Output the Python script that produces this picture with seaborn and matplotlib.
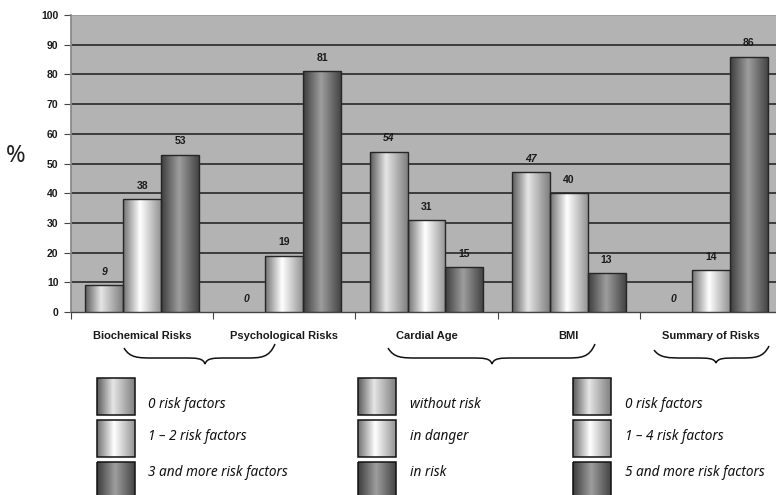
import numpy as np
import pandas as pd
import matplotlib
matplotlib.use("Agg")
import matplotlib.pyplot as plt
from matplotlib.path import Path
from matplotlib.patches import PathPatch, Rectangle
import seaborn as sns

# ---- data -------------------------------------------------------------
categories = ["Biochemical Risks", "Psychological Risks", "Cardial Age", "BMI", "Summary of Risks"]
series_names = ["Level 1", "Level 2", "Level 3"]
level1 = [9, 0, 54, 47, 0]
level2 = [38, 19, 31, 40, 14]
level3 = [53, 81, 15, 13, 86]

legend_a = ["0 risk factors", "1 \u2013 2 risk factors", "3 and more risk factors"]
legend_b = ["without risk", "in danger", "in risk"]
legend_c = ["0 risk factors", "1 \u2013 4 risk factors", "5 and more risk factors"]

y_ticks = list(range(0, 101, 10))

df = pd.DataFrame({
    "category": categories * 3,
    "series": sum([[s] * len(categories) for s in series_names], []),
    "value": level1 + level2 + level3,
})

# ---- style ------------------------------------------------------------
sns.set_theme(style="white")
plt.rcParams["font.family"] = ["Liberation Sans", "DejaVu Sans"]

W, H = 776, 495
fig = plt.figure(figsize=(W / 100, H / 100), dpi=100)
fig.patch.set_facecolor("white")

left_px, right_px, top_px, bottom_px = 71, 782, 15, 312
ax = fig.add_axes([left_px / W, 1 - bottom_px / H,
                   (right_px - left_px) / W, (bottom_px - top_px) / H])
ax.set_facecolor("#b3b3b3")

sns.barplot(data=df, x="category", y="value", hue="series",
            order=categories, hue_order=series_names,
            palette=["#a0a0a0", "#d0d0d0", "#707070"],
            width=0.8, edgecolor="#262626", linewidth=1.0,
            legend=False, ax=ax, zorder=3)

# cylinder-like horizontal shading for each series
shades = [
    [(0.0, 0.36), (0.42, 0.90), (1.0, 0.50)],
    [(0.0, 0.45), (0.45, 1.00), (1.0, 0.58)],
    [(0.0, 0.24), (0.48, 0.62), (1.0, 0.27)],
]


def gradient_row(stops, n=64):
    xs = np.linspace(0, 1, n)
    pos = [p for p, _ in stops]
    val = [v for _, v in stops]
    return np.interp(xs, pos, val)[None, :]


ax.set_xlim(-0.5, 4.5)
ax.set_ylim(0, 100)
for k, container in enumerate(ax.containers):
    grad = gradient_row(shades[k])
    for patch in container:
        x0, w, h = patch.get_x(), patch.get_width(), patch.get_height()
        if h <= 0:
            patch.set_visible(False)
            continue
        im = ax.imshow(grad, cmap="gray", vmin=0, vmax=1, aspect="auto",
                       extent=(x0, x0 + w, 0, h), zorder=2.9,
                       interpolation="bilinear")
        im.set_clip_path(patch)
        patch.set_facecolor("none")
        patch.set_zorder(3.1)
ax.set_xlim(-0.5, 4.5)
ax.set_ylim(0, 100)

# value labels
for k, container in enumerate(ax.containers):
    ax.bar_label(container, labels=[f"{v:g}" for v in container.datavalues],
                 padding=6, fontsize=7.5, fontweight="bold",
                 fontstyle="italic" if k == 0 else "normal",
                 color="#1a1a1a", zorder=5)

# grid and axes
for yv in y_ticks[1:-1]:
    ax.axhline(yv, color="#333333", lw=1.3, zorder=1)
ax.set_yticks(y_ticks)
ax.set_yticklabels([str(t) for t in y_ticks], fontsize=7.5, fontweight="bold", color="#1a1a1a")
ax.tick_params(axis="y", direction="out", length=5, width=0.8, color="#444444", pad=4, left=True)
ax.set_xticks(range(len(categories)))
ax.set_xticklabels(categories, fontsize=8, fontweight="bold", color="#1a1a1a")
ax.tick_params(axis="x", length=0, pad=14)
ax.set_xticks(np.arange(-0.5, 4.6, 1.0), minor=True)
ax.tick_params(axis="x", which="minor", direction="out", length=5, width=0.8, color="#444444", bottom=True)
ax.set_xlabel("")
ax.set_ylabel("")
for side in ["top", "right"]:
    ax.spines[side].set_visible(False)
ax.spines["left"].set_color("#888888")
ax.spines["bottom"].set_color("#444444")
ax.spines["bottom"].set_linewidth(1.0)
ax.axhline(100, color="#9a9a9a", lw=1.2, zorder=1)

fig.text(16 / W, 1 - 156 / H, "%", fontsize=17, family=["Noto Sans", "DejaVu Sans"],
         fontweight="light", ha="center", va="center", color="#222222")

# overlay in pixel coordinates for braces and the key
ov = fig.add_axes([0, 0, 1, 1], zorder=10)
ov.set_xlim(0, W)
ov.set_ylim(H, 0)
ov.axis("off")
ov.patch.set_alpha(0)


def brace(x0, x1, xc, y_end_l, y_end_r, y_mid, y_tip):
    verts = [
        (x0, y_end_l),
        (x0 + 6, y_mid), (x0 + 14, y_mid), (x0 + 30, y_mid),
        (xc - 22, y_mid),
        (xc - 8, y_mid), (xc - 2, y_mid), (xc, y_tip),
        (xc + 2, y_mid), (xc + 8, y_mid), (xc + 22, y_mid),
        (x1 - 30, y_mid),
        (x1 - 14, y_mid), (x1 - 6, y_mid), (x1, y_end_r),
    ]
    codes = [Path.MOVETO,
             Path.CURVE4, Path.CURVE4, Path.CURVE4,
             Path.LINETO,
             Path.CURVE4, Path.CURVE4, Path.CURVE4,
             Path.CURVE4, Path.CURVE4, Path.CURVE4,
             Path.LINETO,
             Path.CURVE4, Path.CURVE4, Path.CURVE4]
    ov.add_patch(PathPatch(Path(verts, codes), fill=False, lw=1.1, ec="#111111"))


brace(124, 275, 205, 348, 344, 358, 364)
brace(388, 595, 492, 348, 344, 358, 364)
brace(654, 769, 716, 350, 346, 358, 363)

swatch_x = [97, 358, 573]
text_x = [148, 410, 625]
swatch_rows = [(378, 415), (420, 457), (462, 499)]
text_y = [404, 437, 472]
key_labels = [legend_a, legend_b, legend_c]

for col in range(3):
    for row in range(3):
        sx = swatch_x[col]
        y0, y1 = swatch_rows[row]
        ov.imshow(gradient_row(shades[row]), cmap="gray", vmin=0, vmax=1,
                  aspect="auto", extent=(sx, sx + 38, y1, y0),
                  interpolation="bilinear", zorder=1)
        ov.add_patch(Rectangle((sx, y0), 38, y1 - y0, fill=False,
                               ec="#111111", lw=1.1, zorder=2))
        ov.text(text_x[col], text_y[row], key_labels[col][row],
                fontsize=9.8, fontstyle="italic",
                family=["Noto Sans", "DejaVu Sans"],
                ha="left", va="center", color="#111111")
ov.set_xlim(0, W)
ov.set_ylim(H, 0)

fig.savefig("out.png", dpi=100)
